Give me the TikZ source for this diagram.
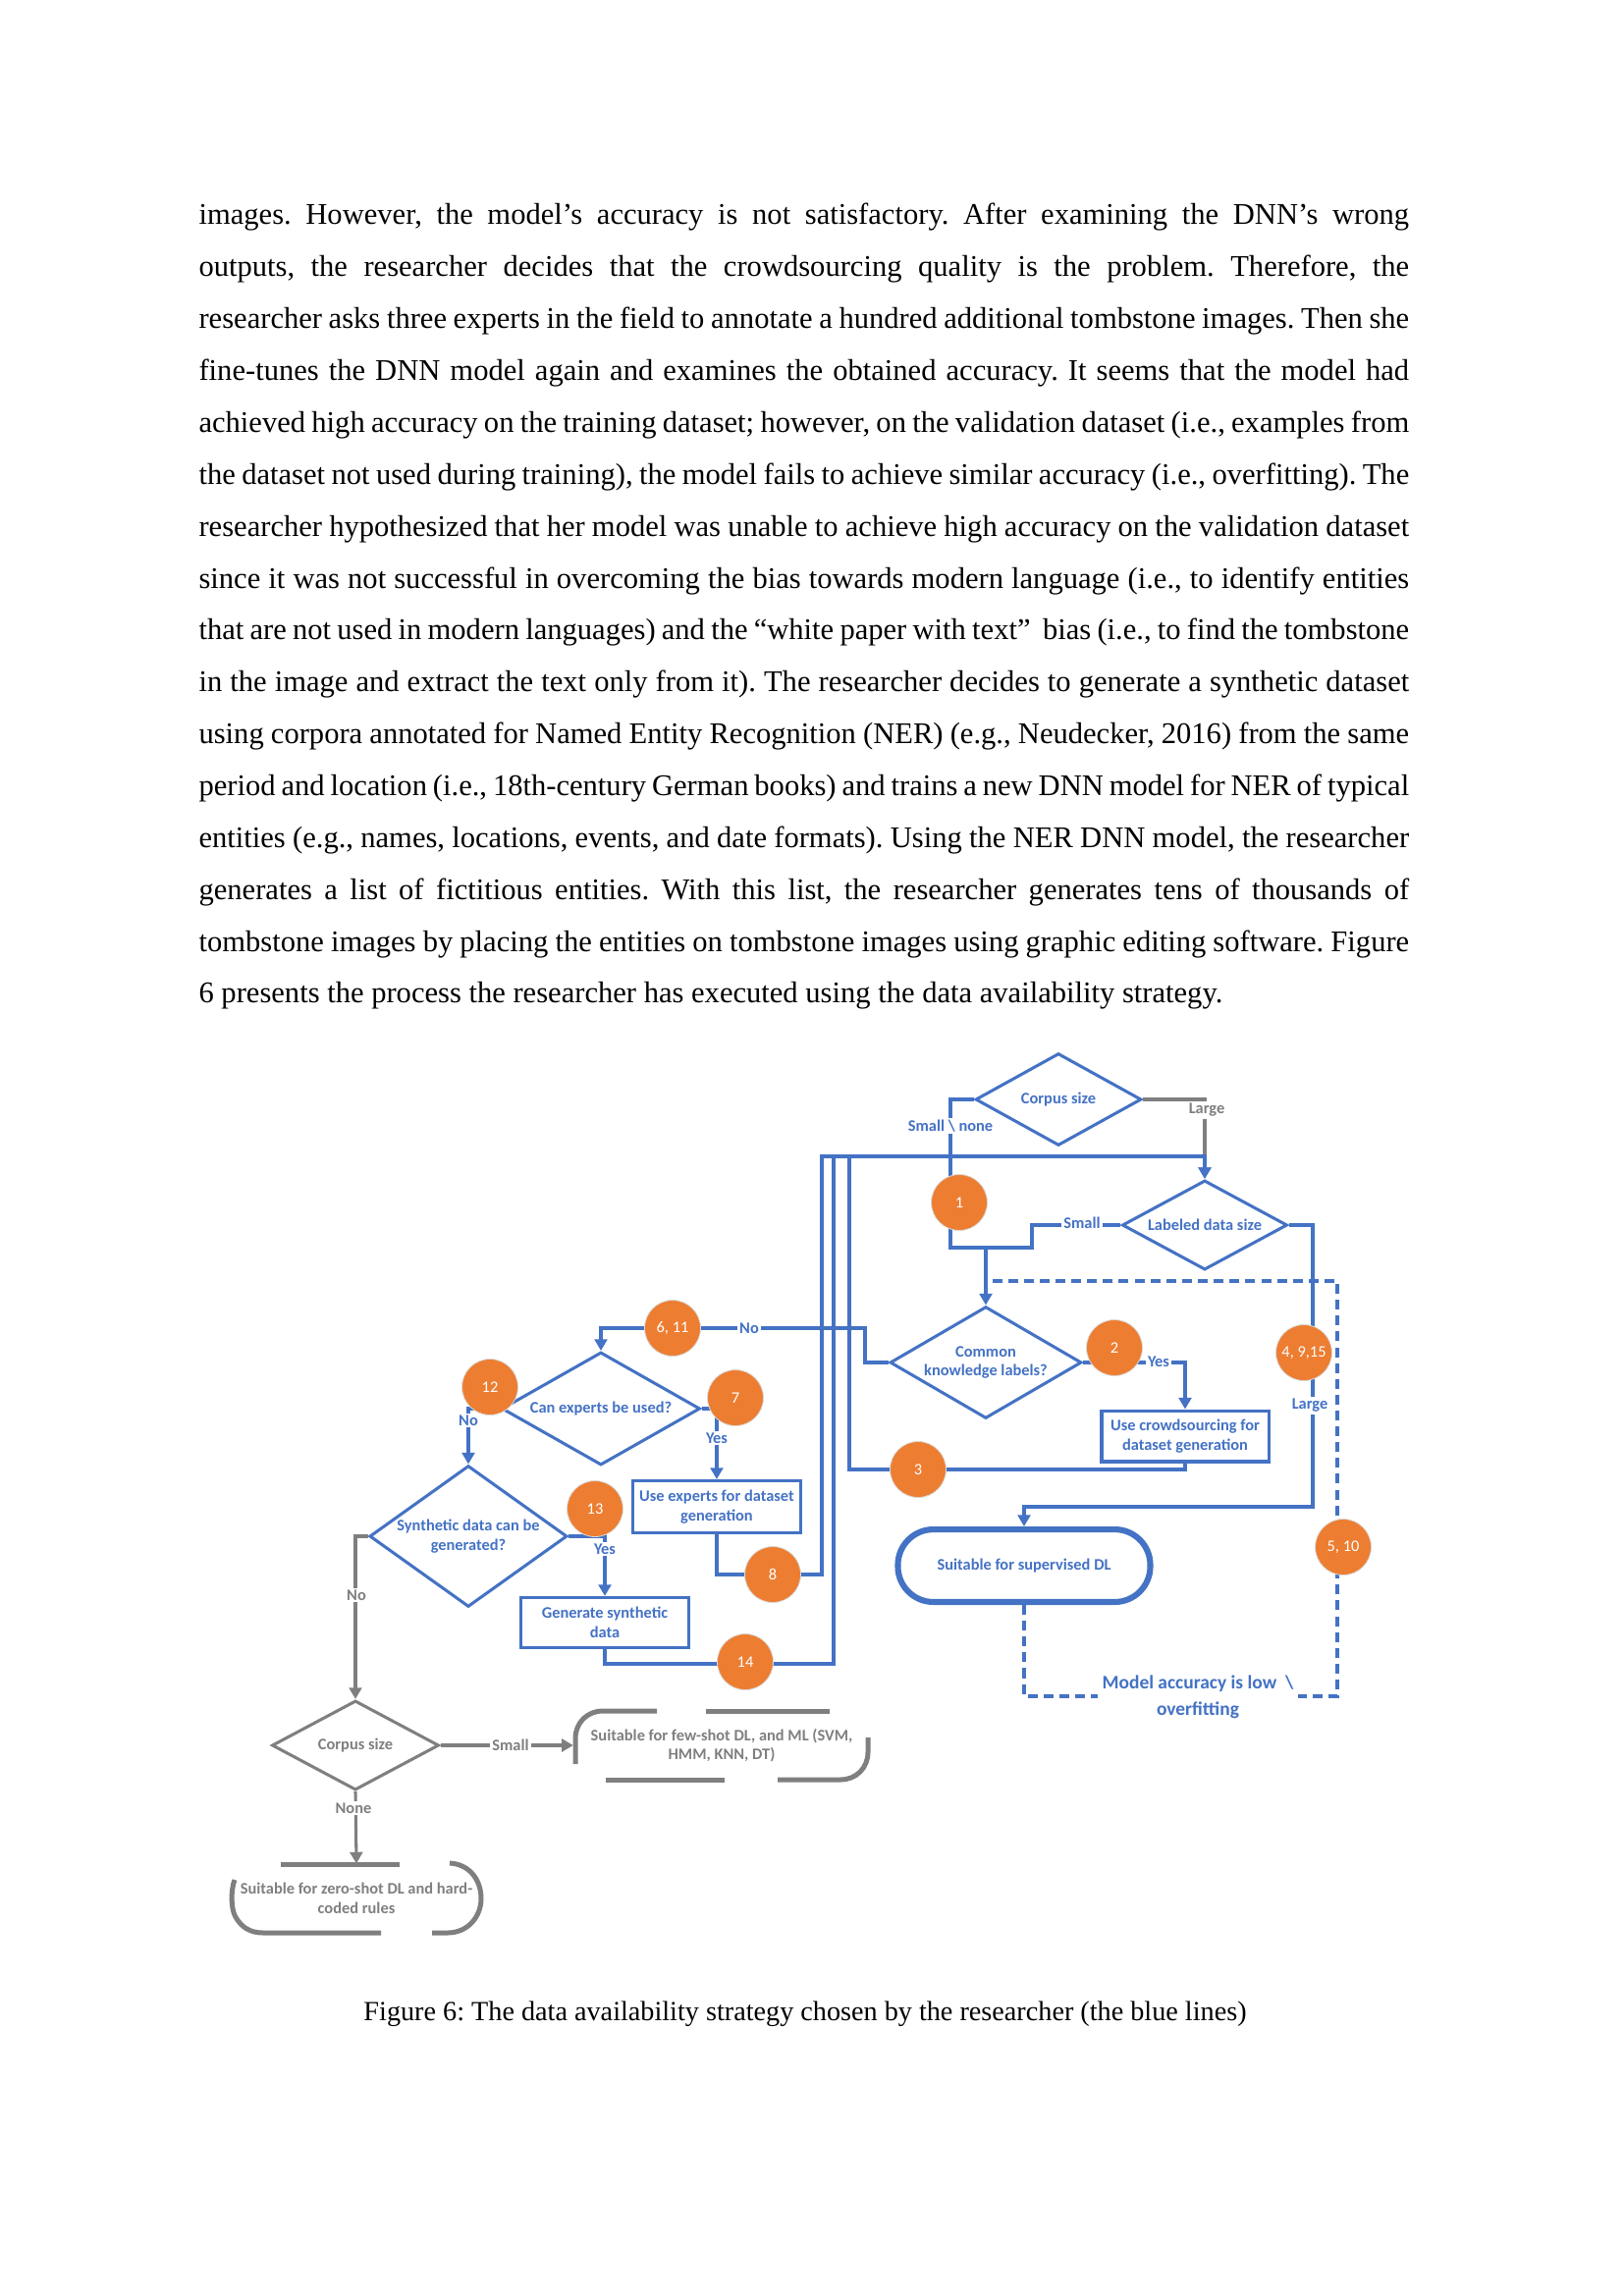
\documentclass[tikz,border=0pt]{standalone}
\usepackage{fontspec}
\setmainfont{Liberation Serif}
\newfontfamily\calib{Carlito}
\usetikzlibrary{shapes.geometric,arrows.meta}
\definecolor{flowblue}{HTML}{4472C4}
\definecolor{badgeorange}{HTML}{ED7D31}
\definecolor{flowgrey}{HTML}{7F7F7F}
\frenchspacing

\tikzset{
  figfont/.style={font=\calib\bfseries\fontsize{5.9}{7.1}\selectfont},
  decision/.style={diamond, draw=flowblue, line width=1.1pt, text=flowblue, inner sep=0pt, align=center, figfont},
  gdecision/.style={decision, draw=flowgrey, text=flowgrey},
  process/.style={rectangle, draw=flowblue, line width=1.1pt, text=flowblue, inner sep=0pt, align=center, figfont},
  terminal/.style={rectangle, rounded corners=13pt, draw=flowblue, line width=2.2pt, text=flowblue, inner sep=0pt, align=center, figfont},
  gterminal/.style={rectangle, inner sep=0pt, text=flowgrey, align=center, figfont},
  gpiece/.style={draw=flowgrey, line width=1.8pt},
  flow/.style={draw=flowblue, line width=1.1pt},
  gflow/.style={draw=flowgrey, line width=1.1pt},
  dashflow/.style={draw=flowblue, line width=1.2pt, dash pattern=on 3.6pt off 2.2pt},
  tip/.style={-{Triangle[width=4.6pt,length=4.2pt]}},
  lbl/.style={fill=white, inner sep=0.7pt, text=flowblue, figfont},
  glbl/.style={lbl, text=flowgrey},
  badge/.style={circle, fill=badgeorange, draw=white!85!black, line width=0.3pt, minimum size=20.5pt, inner sep=0pt, text=white, font=\calib\fontsize{5.9}{7}\selectfont},
  bodyline/.style={anchor=base west, inner sep=0pt, font=\fontsize{11}{13}\selectfont},
}

\newcommand{\jline}[1]{\makebox[443.6pt][s]{#1}}

\begin{document}
\begin{tikzpicture}[x=0.3599pt, y=-0.3599pt]
  \useasboundingbox (0,0) rectangle (1654,2339);

  % body text
  \node[bodyline] (l1) at (202,228) {\jline{images. However, the model’s accuracy is not satisfactory. After examining the DNN’s wrong}};
  \node[bodyline] (l2) at (202,281) {\jline{outputs, the researcher decides that the crowdsourcing quality is the problem. Therefore, the}};
  \node[bodyline] (l3) at (202,334) {\jline{researcher asks three experts in the field to annotate a hundred additional tombstone images. Then she}};
  \node[bodyline] (l4) at (202,387) {\jline{fine-tunes the DNN model again and examines the obtained accuracy. It seems that the model had}};
  \node[bodyline] (l5) at (202,440) {\jline{achieved high accuracy on the training dataset; however, on the validation dataset (i.e., examples from}};
  \node[bodyline] (l6) at (202,493) {\jline{the dataset not used during training), the model fails to achieve similar accuracy (i.e., overfitting). The}};
  \node[bodyline] (l7) at (202,546) {\jline{researcher hypothesized that her model was unable to achieve high accuracy on the validation dataset}};
  \node[bodyline] (l8) at (202,599) {\jline{since it was not successful in overcoming the bias towards modern language (i.e., to identify entities}};
  \node[bodyline] (l9) at (202,651) {\jline{that are not used in modern languages) and the “white paper with text” \ bias (i.e., to find the tombstone}};
  \node[bodyline] (l10) at (202,704) {\jline{in the image and extract the text only from it). The researcher decides to generate a synthetic dataset}};
  \node[bodyline] (l11) at (202,757) {\jline{using corpora annotated for Named Entity Recognition (NER) (e.g., Neudecker, 2016) from the same}};
  \node[bodyline] (l12) at (202,810) {\jline{period and location (i.e., 18th-century German books) and trains a new DNN model for NER of typical}};
  \node[bodyline] (l13) at (202,863) {\jline{entities (e.g., names, locations, events, and date formats). Using the NER DNN model, the researcher}};
  \node[bodyline] (l14) at (202,916) {\jline{generates a list of fictitious entities. With this list, the researcher generates tens of thousands of}};
  \node[bodyline] (l15) at (202,969) {\jline{tombstone images by placing the entities on tombstone images using graphic editing software. Figure}};
  \node[bodyline] (l16) at (202,1021) {6 presents the process the researcher has executed using the data availability strategy.};

  % blocks
  \node[decision, aspect=1.8, minimum width=60.8pt, minimum height=33.8pt] (cs) at (1078,1120) {Corpus size};
  \node[decision, aspect=1.85, minimum width=60.5pt, minimum height=32.8pt] (lds) at (1227,1248) {Labeled data size};
  \node[decision, aspect=1.7, minimum width=70.2pt, minimum height=41pt] (ckl) at (1004,1388) {Common\\knowledge labels?};
  \node[process, minimum width=61.2pt, minimum height=18.7pt] (crowd) at (1207,1463) {Use crowdsourcing for\\dataset generation};
  \node[terminal, minimum width=92.5pt, minimum height=26.6pt] (sup) at (1043,1595) {Suitable for supervised DL};
  \node[decision, aspect=1.75, minimum width=72.7pt, minimum height=41.4pt] (cex) at (612,1435) {Can experts be used?};
  \node[process, minimum width=61.6pt, minimum height=19.1pt] (uex) at (730,1535) {Use experts for dataset\\generation};
  \node[decision, aspect=1.4, minimum width=72.4pt, minimum height=51.8pt] (syn) at (477,1565) {Synthetic data can be\\generated?};
  \node[process, minimum width=61.6pt, minimum height=18.4pt] (gen) at (616,1653) {Generate synthetic\\data};
  \node[gdecision, aspect=1.85, minimum width=61.2pt, minimum height=32.8pt] (cs2) at (362,1778) {Corpus size};
  \node[gterminal, minimum width=108.4pt, minimum height=25.2pt] (few) at (735,1778) {Suitable for few-shot DL, and ML (SVM,\\HMM, KNN, DT)};
  \node[gterminal, minimum width=91.1pt, minimum height=25.2pt] (zero) at (363,1934) {Suitable for zero-shot DL and hard-\\coded rules};

  % broken outlines of the grey end boxes
  \draw[gpiece] (586,1797) -- (586,1771) .. controls (586,1755) and (598,1743) .. (614,1743) -- (669,1743);
  \draw[gpiece] (719,1743) -- (845,1743);
  \draw[gpiece] (884,1770) -- (884,1785) .. controls (884,1801) and (872,1813) .. (856,1813) -- (792,1813);
  \draw[gpiece] (617,1813) -- (738,1813);
  \draw[gpiece] (286,1899) -- (407,1899);
  \draw[gpiece] (458,1898) .. controls (478,1899) and (490,1915) .. (490,1934) .. controls (490,1953) and (476,1969) .. (456,1969) -- (440,1969);
  \draw[gpiece] (239,1915) .. controls (235,1925) and (235,1945) .. (240,1953) .. controls (246,1963) and (254,1969) .. (268,1969) -- (388,1969);

  % bends
  \coordinate (bend1) at (968,1271);
  \coordinate (bend2) at (1051,1271);
  \coordinate (topj) at (1227,1178);
  \coordinate (b8) at (837,1604);
  \coordinate (b14) at (849,1695);
  \coordinate (b3) at (865,1497);
  \coordinate (b6) at (881,1353);
  \coordinate (b4) at (1337,1535);
  \coordinate (b5) at (1362,1728);
  \coordinate (dashend) at (1005,1305);

  % connectors
  \draw[flow, tip] (cs.west) -| (bend1) -| (ckl.north);
  \draw[flow] (lds.west) -| (bend2) -- (bend2 -| ckl.north);
  \draw[gflow] (cs.east) -| (topj);
  \draw[flow, tip] (topj) -- (lds.north);
  \draw[flow, tip] (uex.south) |- (b8) -- (b8 |- topj) -- (topj) -- (lds.north);
  \draw[flow] (gen.south) |- (b14) -- (b14 |- topj);
  \draw[flow] (crowd.south) |- (b3) -- (b3 |- topj);
  \draw[flow, tip] (ckl.west) -| (b6) -| (cex.north);
  \draw[flow, tip] (ckl.east) -| (crowd.north);
  \draw[flow, tip] (lds.east) -| (b4) -| (sup.north);
  \draw[dashflow] (sup.south) |- (b5) |- (dashend);
  \draw[flow, tip] (cex.east) -| (uex.north);
  \draw[flow, tip] (cex.west) -| (syn.north);
  \draw[flow, tip] (syn.east) -| (gen.north);
  \draw[gflow, tip] (syn.west) -| (cs2.north);
  \draw[gflow, tip] (cs2.east) -- (cs2.east -| few.west);
  \draw[gflow, tip] (cs2.south) -- (zero.north);

  % labels
  \node[lbl] (lsn) at (968,1147) {Small \textbackslash{} none};
  \node[lbl] (lsm) at (1102,1246) {Small};
  \node[glbl] (llg) at (1229,1131) {Large};
  \node[lbl] (lno1) at (763,1353) {No};
  \node[lbl] (lyes1) at (1180,1387) {Yes};
  \node[lbl] (llg2) at (1334,1432) {Large};
  \node[lbl] (lyes2) at (730,1465) {Yes};
  \node[lbl] (lno2) at (477,1447) {No};
  \node[lbl] (lyes3) at (616,1578) {Yes};
  \node[glbl] (lno3) at (363,1625) {No};
  \node[glbl] (lsm2) at (520,1778) {Small};
  \node[glbl] (lnone) at (360,1842) {None};
  \node[lbl, inner sep=1.5pt, align=center, font=\calib\bfseries\fontsize{7}{9.6}\selectfont] (acc) at (1220,1729) {Model accuracy is low \ \textbackslash\\overfitting};

  % step numbers
  \foreach \x/\y/\t/\n in {977/1225/1/n1, 1135/1373/2/n2, 935/1497/3/n3, 1328/1378/{4, 9,15}/n4,
      1368/1576/{5, 10}/n5, 685/1353/{6, 11}/n6, 749/1424/7/n7, 787/1604/8/n8,
      499/1413/12/n12, 606/1537/13/n13, 759/1693/14/n14}
    \node[badge] (\n) at (\x,\y) {\t};

  % caption
  \node[anchor=base, inner sep=0pt, font=\fontsize{10.15}{12}\selectfont] (cap) at (820,2058) {Figure 6: The data availability strategy chosen by the researcher (the blue lines)};
\end{tikzpicture}
\end{document}
